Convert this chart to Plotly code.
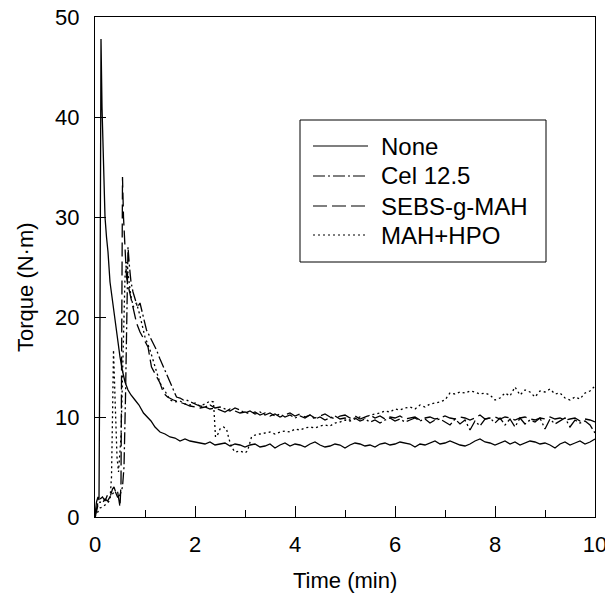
import plotly.graph_objects as go

# ---------------- data ----------------
grid_2_10 = [round(2.0 + 0.1 * i, 2) for i in range(81)]
grid_33_10 = [round(3.3 + 0.1 * i, 2) for i in range(68)]

none_t_early = [0.0, 0.03, 0.06, 0.08, 0.10, 0.12, 0.14, 0.17, 0.20, 0.23, 0.26, 0.30, 0.35,
                0.40, 0.45, 0.50, 0.55, 0.60, 0.66, 0.72, 0.80, 0.88, 0.97, 1.05, 1.12, 1.20,
                1.30, 1.40, 1.50, 1.60, 1.70, 1.80, 1.90]
none_v_early = [0.2, 1.5, 2.0, 1.7, 20.0, 47.8, 41.0, 34.0, 30.0, 28.0, 26.5, 23.5, 21.5,
                19.5, 17.8, 16.0, 14.6, 13.5, 12.7, 12.2, 11.7, 11.2, 10.4, 10.0, 9.6, 9.0,
                8.5, 8.3, 8.0, 7.9, 7.6, 7.8, 7.6]
none_v_late = [7.5, 7.4, 7.3, 7.5, 7.2, 7.3, 7.4, 7.1, 7.3, 7.2, 7.0,
               7.2, 7.3, 7.0, 7.1, 7.3, 6.9, 7.2, 7.4, 7.1, 7.3,
               7.2, 7.0, 7.3, 7.5, 7.2, 7.0, 7.1, 7.3, 7.2, 6.9,
               7.2, 7.4, 7.3, 7.1, 7.2, 7.0, 7.3, 7.4, 7.2, 7.3,
               7.5, 7.4, 7.3, 7.0, 7.3, 7.2, 7.4, 7.6, 7.3, 7.4,
               7.6, 7.4, 7.2, 7.1, 7.3, 7.6, 7.8, 7.5, 7.4, 7.2,
               7.4, 7.6, 7.3, 7.5, 7.2, 7.4, 7.6, 7.5, 7.3, 7.4,
               7.2, 6.9, 7.3, 7.5, 7.2, 7.4, 7.6, 7.3, 7.5, 7.8]

cel_t_early = [0.0, 0.03, 0.06, 0.10, 0.15, 0.20, 0.25, 0.30, 0.35, 0.40, 0.45, 0.50, 0.55,
               0.58, 0.61, 0.64, 0.66, 0.69, 0.72, 0.76, 0.80, 0.85, 0.90, 0.97, 1.03, 1.10,
               1.17, 1.23, 1.30, 1.37, 1.43, 1.50, 1.57, 1.63, 1.70, 1.77, 1.83, 1.90]
cel_v_early = [0.0, 0.8, 1.2, 1.5, 1.4, 1.8, 1.6, 2.0, 2.3, 2.6, 2.0, 2.2, 3.0,
               5.0, 12.0, 22.0, 27.0, 25.0, 23.5, 22.5, 21.8, 21.0, 21.4, 20.0, 18.7, 18.0,
               17.3, 16.7, 15.8, 15.0, 14.4, 13.5, 12.8, 12.0, 11.9, 11.7, 11.7, 11.5]
cel_v_late = [11.3, 11.1, 11.0, 11.2, 10.9, 11.0, 10.8, 10.6, 10.9, 10.7, 10.4,
              10.6, 10.3, 10.5, 10.2, 10.4, 10.1, 10.3, 10.0, 10.2, 9.9,
              10.1, 9.9, 10.2, 9.8, 10.0, 9.7, 9.9, 10.1, 9.8, 9.9,
              9.7, 9.9, 9.6, 9.8, 9.5, 9.7, 9.4, 9.7, 9.9, 9.6,
              9.8, 9.5, 9.7, 9.9, 9.6, 9.8, 9.4, 9.7, 9.8, 9.5,
              9.2, 9.8, 9.3, 9.7, 8.7, 9.6, 9.1, 9.8, 9.9, 9.4,
              9.9, 9.2, 9.8, 9.0, 9.9, 9.3, 9.7, 9.5, 9.9, 8.8,
              9.8, 9.3, 9.6, 9.9, 9.0, 9.7, 9.4, 9.6, 9.2, 8.4]

sebs_t_early = [0.0, 0.03, 0.06, 0.10, 0.15, 0.20, 0.25, 0.30, 0.35, 0.38, 0.42, 0.45, 0.48,
                0.50, 0.52, 0.55, 0.57, 0.60, 0.63, 0.67, 0.73, 0.78, 0.83, 0.90, 0.97, 1.06,
                1.13, 1.20, 1.30, 1.37, 1.45, 1.57, 1.70, 1.80, 1.90]
sebs_v_early = [0.0, 1.0, 1.5, 1.8, 2.0, 1.6, 2.2, 2.0, 2.8, 3.0, 2.4, 2.6, 1.8,
                1.0, 3.4, 34.0, 30.0, 26.0, 24.0, 23.0, 21.7, 20.5, 19.4, 18.5, 17.8, 17.0,
                15.0, 14.3, 13.4, 12.4, 12.0, 11.7, 11.5, 11.3, 11.1]
sebs_v_late = [11.0, 10.9, 11.0, 10.8, 10.9, 10.7, 10.5, 10.8, 10.6, 10.4, 10.5,
               10.3, 10.5, 10.2, 10.4, 10.1, 10.3, 10.0, 10.2, 10.4, 10.1,
               10.3, 10.0, 10.2, 9.9, 10.1, 10.3, 10.0, 9.8, 10.1, 10.2,
               9.9, 10.1, 9.8, 10.0, 10.2, 9.9, 10.1, 9.8, 10.0, 9.9,
               10.1, 9.8, 9.9, 10.0, 9.7, 9.9, 10.0, 9.8, 9.9, 10.1,
               9.9, 9.8, 10.0, 9.9, 9.7, 9.9, 10.2, 9.8, 9.9, 10.0,
               9.8, 10.0, 9.9, 9.7, 9.9, 10.0, 9.8, 9.7, 9.9, 9.8,
               10.0, 9.8, 9.9, 9.7, 9.8, 9.9, 9.6, 9.8, 9.7, 9.5]

mah_t_early = [0.0, 0.05, 0.10, 0.15, 0.20, 0.25, 0.30, 0.33, 0.35, 0.37, 0.40, 0.44, 0.47,
               0.52, 0.56, 0.60, 0.63, 0.67, 0.72, 0.77, 0.83, 0.88, 0.95, 1.00, 1.10, 1.20,
               1.30, 1.40, 1.50, 1.60, 1.70, 1.80, 1.90, 2.00, 2.10, 2.20, 2.30, 2.37, 2.41,
               2.45, 2.50, 2.57, 2.63, 2.68, 2.73, 2.80, 2.90, 3.00, 3.05, 3.13, 3.20]
mah_v_early = [0.0, 0.5, 0.9, 1.0, 1.2, 1.4, 1.7, 4.0, 10.0, 16.7, 12.0, 6.0, 4.5,
               8.0, 16.0, 24.0, 25.5, 24.0, 22.0, 21.0, 21.4, 20.5, 19.0, 18.0, 16.7, 15.0,
               13.4, 12.6, 11.7, 11.5, 11.6, 11.3, 11.2, 11.4, 11.1, 11.3, 11.6, 11.5, 8.0,
               8.2, 8.8, 9.0, 8.8, 7.8, 7.0, 6.5, 6.6, 6.4, 6.6, 8.0, 8.2]
mah_v_late = [8.3, 8.4, 8.5, 8.3, 8.5, 8.6, 8.5, 8.8,
              8.7, 8.9, 9.0, 8.9, 9.1, 9.2, 9.1, 9.4, 9.5, 9.7,
              9.6, 9.8, 10.0, 9.9, 10.2, 10.3, 10.4, 10.6, 10.5, 10.8,
              10.7, 10.9, 11.0, 10.8, 11.2, 11.0, 11.3, 11.4, 11.5, 11.7,
              12.4, 12.3, 12.5, 12.4, 12.6, 12.5, 12.3, 12.4, 12.2, 11.7,
              11.9, 12.4, 12.1, 13.0, 12.2, 12.7, 12.5, 12.0, 12.6, 12.5,
              12.8, 12.3, 12.4, 11.9, 11.7, 12.0, 11.8, 12.4, 12.6, 13.1]

series_names = ["None", "Cel 12.5", "SEBS-g-MAH", "MAH+HPO"]
x_ticks = [0, 2, 4, 6, 8, 10]
y_ticks = [0, 10, 20, 30, 40, 50]

# ---------------- figure ----------------
FONT = "Liberation Sans, Arial, Helvetica, sans-serif"
DASHES = ["solid", "12px,3px,2px,3px", "14px,5px", "2px,3px"]
series = [
    (none_t_early + grid_2_10, none_v_early + none_v_late),
    (cel_t_early + grid_2_10, cel_v_early + cel_v_late),
    (sebs_t_early + grid_2_10, sebs_v_early + sebs_v_late),
    (mah_t_early + grid_33_10, mah_v_early + mah_v_late),
]

fig = go.Figure()
for name, (xs, ys), dash in zip(series_names, series, DASHES):
    fig.add_trace(go.Scatter(x=xs, y=ys, mode="lines", name=name, showlegend=False,
                             line=dict(color="black", width=1.3, dash=dash)))

axis_common = dict(showline=True, linecolor="black", linewidth=1, mirror=True,
                   showgrid=False, zeroline=False, ticks="inside", ticklen=11,
                   tickcolor="black", tickwidth=1, automargin=False,
                   ticklabeloverflow="allow",
                   tickfont=dict(family=FONT, size=22, color="black"))

fig.update_xaxes(range=[0, 10], tickvals=x_ticks, ticktext=[str(v) for v in x_ticks],
                 minor=dict(ticks="inside", ticklen=7, dtick=1, tickcolor="black"),
                 ticklabelstandoff=8, **axis_common)
fig.update_yaxes(range=[0, 50], tickvals=y_ticks, ticktext=[str(v) for v in y_ticks],
                 ticklabelstandoff=10, **axis_common)

# axis titles
annotations = [
    dict(text="Time (min)", xref="paper", yref="paper", x=0.5, y=-0.126,
         xanchor="center", yanchor="middle", showarrow=False,
         font=dict(family=FONT, size=22, color="black")),
    dict(text="Torque (N·m)", xref="paper", yref="paper", x=-0.14, y=0.46,
         xanchor="center", yanchor="middle", showarrow=False, textangle=-90,
         font=dict(family=FONT, size=22, color="black")),
]

# legend box (drawn manually to match the long sample lines)
shapes = [dict(type="rect", xref="paper", yref="paper", x0=0.41, x1=0.902, y0=0.51, y1=0.794,
               line=dict(color="black", width=1), fillcolor="white", layer="above")]
row_y = [0.742, 0.682, 0.622, 0.564]
for name, dash, yy in zip(series_names, DASHES, row_y):
    shapes.append(dict(type="line", xref="paper", yref="paper", x0=0.436, x1=0.546,
                       y0=yy, y1=yy, line=dict(color="black", width=1.2, dash=dash),
                       layer="above"))
    annotations.append(dict(text=name, xref="paper", yref="paper", x=0.568, y=yy,
                            xanchor="left", yanchor="middle", showarrow=False,
                            font=dict(family=FONT, size=24, color="black")))

fig.update_layout(
    width=605, height=589,
    margin=dict(l=87, r=18, t=9, b=80),
    paper_bgcolor="white", plot_bgcolor="white",
    font=dict(family=FONT, color="black"),
    shapes=shapes, annotations=annotations,
    showlegend=False,
)

fig.write_html("out.html")
